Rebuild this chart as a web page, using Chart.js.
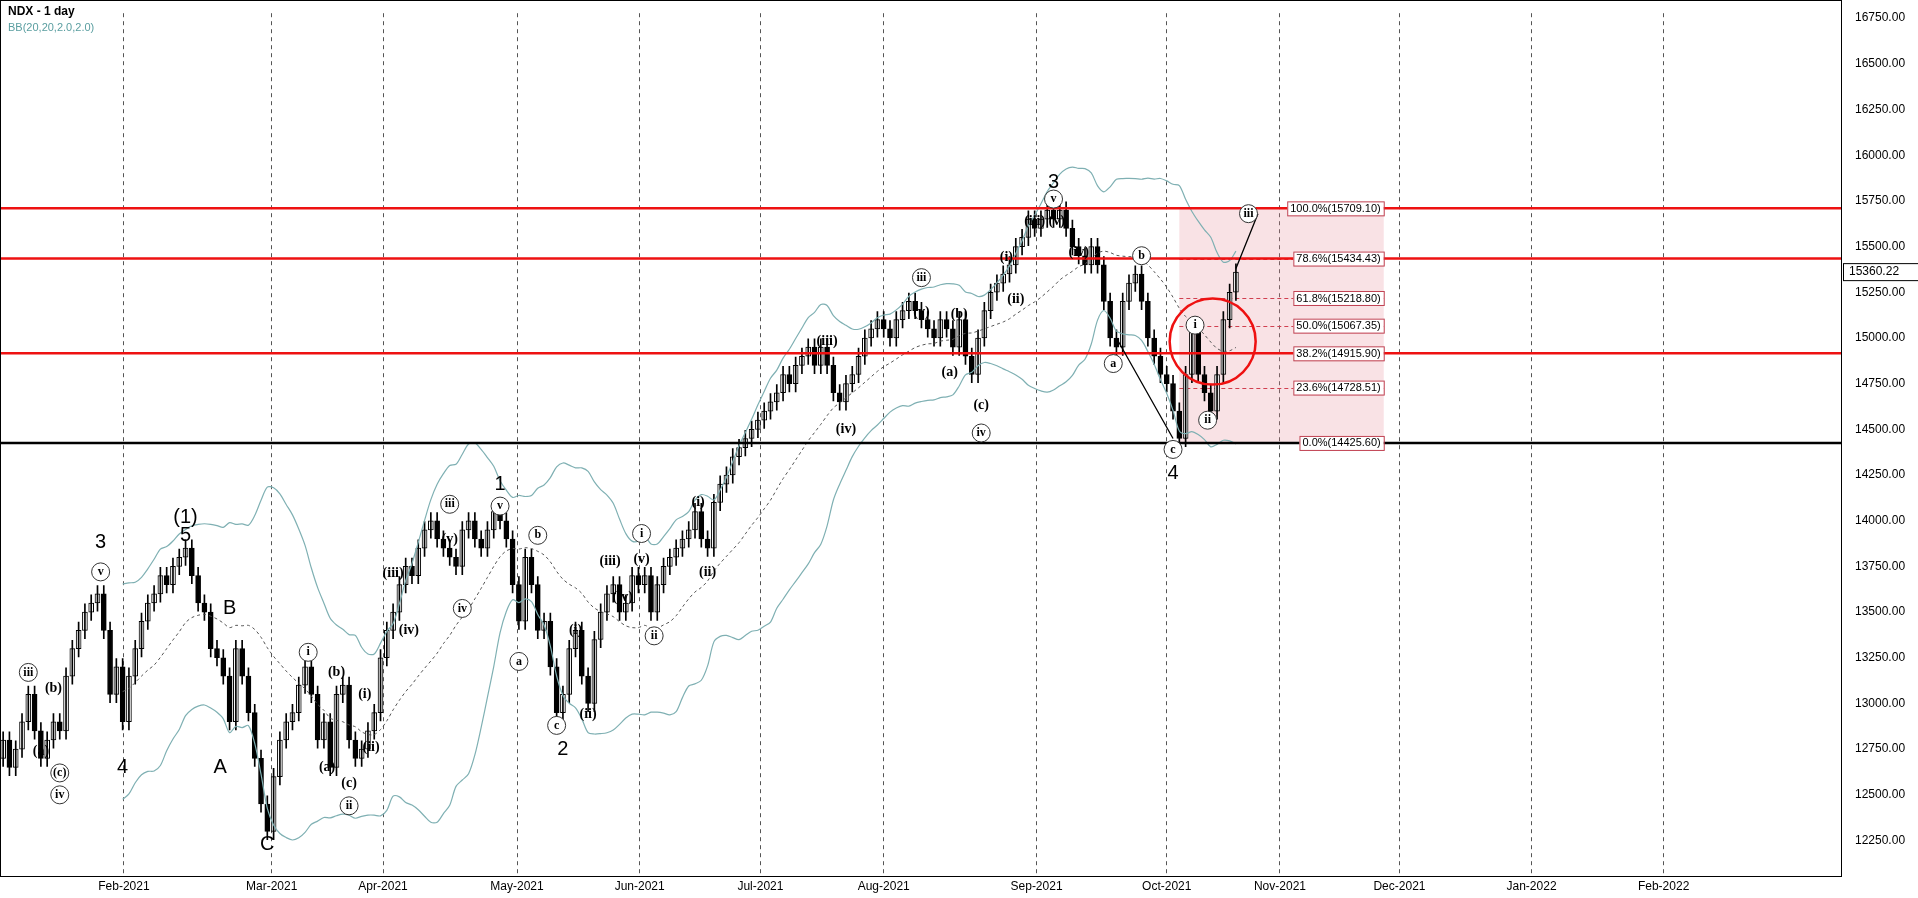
<!DOCTYPE html>
<html>
<head>
<meta charset="utf-8">
<script src="https://cdn.jsdelivr.net/npm/chart.js@4.4.0/dist/chart.umd.min.js"></script>
<style>
  html, body { margin: 0; padding: 0; background: #fff; }
  #wrap { width: 1918px; height: 898px; position: relative; }
</style>
</head>
<body>
<div id="wrap"><canvas id="ndx"></canvas></div>
<script>
// daily closes (trading day index 0 = early Jan 2021)
const closes = [
  12800,12650,12750,12900,13050,12850,12700,12800,12900,12850,
  13150,13300,13400,13500,13550,13600,13400,13050,13200,12900,
  13150,13300,13450,13550,13600,13700,13650,13750,13800,13850,
  13700,13550,13500,13300,13250,13150,12900,13300,13150,12950,
  12700,12450,12300,12600,12800,12900,12950,13100,13200,13050,
  12800,12900,12650,13050,13100,12800,12700,12750,12850,12950,
  13250,13400,13500,13650,13750,13700,13850,13950,14000,13900,
  13850,13800,13750,13950,14000,13900,13850,13950,14050,14000,
  13900,13650,13450,13800,13650,13400,13450,13200,12950,13050,
  13300,13400,13150,13000,13350,13500,13600,13650,13500,13550,
  13700,13650,13700,13500,13650,13750,13800,13850,13900,13950,
  14050,13900,13850,14100,14200,14250,14350,14400,14450,14500,
  14550,14600,14650,14700,14800,14750,14850,14900,14950,14850,
  14950,14850,14700,14650,14750,14800,14900,15000,15050,15100,
  15050,15000,15100,15150,15200,15150,15100,15050,15000,15100,
  15050,14950,15100,14900,14800,15000,15150,15250,15300,15350,
  15400,15500,15550,15650,15600,15650,15700,15650,15700,15600,
  15500,15450,15400,15500,15400,15200,15000,14950,15200,15300,
  15350,15200,15000,14900,14800,14750,14600,14450,14800,15050,
  14800,14700,14600,14800,15100,15250,15360.22
];
const firstOpen = 12700;

// month labels and their positions on the day index axis
const monthLabels = ["Feb-2021","Mar-2021","Apr-2021","May-2021","Jun-2021","Jul-2021","Aug-2021","Sep-2021","Oct-2021","Nov-2021","Dec-2021","Jan-2022","Feb-2022"];
const monthIndex = [19.2,42.7,60.4,81.7,101.2,120.4,140,164.3,185,203,222,243,264];

// horizontal levels
const redLevels = [15709.10, 15434.43, 14915.90];
const blackLevel = 14425.60;
const fibPct = ["100.0%","78.6%","61.8%","50.0%","38.2%","23.6%","0.0%"];
const fibPrice = [15709.10,15434.43,15218.80,15067.35,14915.90,14728.51,14425.60];

// wave labels: [text, dayIndex, price, circled]
const waves = [
  ["iii",4,13170,true],["(a)",6,12740,false],["(b)",8,13080,false],["(c)",9,12620,true],["iv",9,12500,true],
  ["3",15.5,13880,false],["v",15.5,13720,true],["4",19,12650,false],
  ["(1)",29,14020,false],["5",29,13920,false],["B",36,13520,false],["A",34.5,12650,false],["C",42,12230,false],
  ["i",48.5,13280,true],["(b)",53,13170,false],["(a)",51.5,12650,false],["(c)",55,12560,false],["ii",55,12440,true],
  ["(i)",57.5,13050,false],["(ii)",58.5,12760,false],
  ["iii",71,14090,true],["(v)",71,13900,false],["iv",73,13520,true],["(iii)",62,13710,false],["(iv)",64.5,13400,false],
  ["1",79,14200,false],["v",79,14080,true],["b",85,13920,true],["a",82,13230,true],["c",88,12880,true],["2",89,12750,false],
  ["(i)",91,13400,false],["(ii)",93,12940,false],["(iii)",96.5,13780,false],["(iv)",98.5,13580,false],["(v)",101.5,13790,false],
  ["i",101.5,13930,true],["ii",103.5,13370,true],["(i)",110.5,14100,false],["(ii)",112,13720,false],
  ["(iii)",131,14980,false],["(iv)",134,14500,false],["iii",146,15330,true],["(v)",146,15140,false],["(b)",152,15130,false],["(a)",150.5,14810,false],
  ["(c)",155.5,14630,false],["iv",155.5,14480,true],["(i)",159.5,15440,false],["(ii)",161,15210,false],
  ["3",167,15850,false],["v",167,15760,true],["(iii)",164,15640,false],["(v)",167.5,15640,false],["(iv)",171,15470,false],
  ["b",181,15450,true],["a",176.5,14860,true],["c",186,14390,true],["4",186,14260,false],
  ["i",189.5,15070,true],["ii",191.5,14550,true],["iii",198,15680,true]
];

const W = 1918, plotRight = 1841;

const bodies = closes.map((c, i) => {
  const o = i === 0 ? firstOpen : closes[i - 1];
  return { x: i, y: [o, c] };
});
const wicks = closes.map((c, i) => {
  const o = i === 0 ? firstOpen : closes[i - 1];
  return { x: i, y: [Math.min(o, c) - 45, Math.max(o, c) + 45] };
});

// Bollinger bands 20, 2.0
const mid = [], up = [], lo = [];
closes.forEach((c, i) => {
  if (i < 19) return;
  const win = closes.slice(i - 19, i + 1);
  const m = win.reduce((a, b) => a + b, 0) / 20;
  const sd = Math.sqrt(win.reduce((a, b) => a + (b - m) * (b - m), 0) / 20);
  mid.push({ x: i, y: m }); up.push({ x: i, y: m + 2 * sd }); lo.push({ x: i, y: m - 2 * sd });
});

const overlay = {
  id: "overlay",
  beforeDatasetsDraw(chart) {
    const { ctx, scales: { x, y } } = chart;
    ctx.save();
    const x0 = x.getPixelForValue(187), x1 = x.getPixelForValue(219.5);
    ctx.fillStyle = "rgba(230,140,150,0.25)";
    ctx.fillRect(x0, y.getPixelForValue(fibPrice[0]), x1 - x0, y.getPixelForValue(fibPrice[6]) - y.getPixelForValue(fibPrice[0]));
    ctx.strokeStyle = "#d04050"; ctx.lineWidth = 1; ctx.setLineDash([4, 3]);
    fibPrice.forEach(p => {
      const py = Math.round(y.getPixelForValue(p)) + 0.5;
      ctx.beginPath(); ctx.moveTo(x0, py); ctx.lineTo(x1, py); ctx.stroke();
    });
    ctx.setLineDash([]);
    ctx.restore();
  },
  afterDatasetsDraw(chart) {
    const { ctx, scales: { x, y } } = chart;
    ctx.save();
    ctx.lineWidth = 2.5;
    ctx.strokeStyle = "#ee1111";
    redLevels.forEach(p => {
      const py = y.getPixelForValue(p);
      ctx.beginPath(); ctx.moveTo(0, py); ctx.lineTo(plotRight, py); ctx.stroke();
    });
    ctx.strokeStyle = "#000";
    let py = y.getPixelForValue(blackLevel);
    ctx.beginPath(); ctx.moveTo(0, py); ctx.lineTo(plotRight, py); ctx.stroke();

    ctx.font = "11px Arial, 'Liberation Sans'";
    ctx.textBaseline = "middle";
    const x1 = x.getPixelForValue(219.5);
    fibPrice.forEach((p, k) => {
      const t = fibPct[k] + "(" + p.toFixed(2) + ")";
      const w = ctx.measureText(t).width + 6;
      const yy = y.getPixelForValue(p);
      ctx.fillStyle = "#fff"; ctx.strokeStyle = "#c04050"; ctx.lineWidth = 1;
      ctx.fillRect(x1 - w, yy - 7, w, 14); ctx.strokeRect(x1 - w + 0.5, yy - 6.5, w, 14);
      ctx.fillStyle = "#000"; ctx.textAlign = "left";
      ctx.fillText(t, x1 - w + 3, yy + 0.5);
    });

    ctx.strokeStyle = "#ee1111"; ctx.lineWidth = 2.5;
    ctx.beginPath();
    ctx.arc(x.getPixelForValue(192.3), y.getPixelForValue(14980), 43, 0, Math.PI * 2);
    ctx.stroke();

    ctx.strokeStyle = "#000"; ctx.lineWidth = 1.3;
    ctx.beginPath();
    ctx.moveTo(x.getPixelForValue(177), y.getPixelForValue(15000));
    ctx.lineTo(x.getPixelForValue(186), y.getPixelForValue(14450));
    ctx.moveTo(x.getPixelForValue(196), y.getPixelForValue(15380));
    ctx.lineTo(x.getPixelForValue(199.5), y.getPixelForValue(15680));
    ctx.stroke();

    ctx.textAlign = "center";
    waves.forEach(([t, i, p, circ]) => {
      const px = x.getPixelForValue(i), yy = y.getPixelForValue(p);
      if (circ) {
        ctx.font = "bold 12px 'Liberation Serif', serif";
        ctx.fillStyle = "#fff"; ctx.strokeStyle = "#333"; ctx.lineWidth = 1;
        ctx.beginPath(); ctx.arc(px, yy, 9, 0, Math.PI * 2); ctx.fill(); ctx.stroke();
        ctx.fillStyle = "#000"; ctx.fillText(t, px, yy);
      } else {
        ctx.font = /^[0-9A-C]$|^\(1\)$/.test(t) ? "20px Arial, 'Liberation Sans'" : "bold 14px 'Liberation Serif', serif";
        ctx.fillStyle = "#000"; ctx.fillText(t, px, yy);
      }
    });

    py = y.getPixelForValue(15360.22);
    ctx.fillStyle = "#fff"; ctx.strokeStyle = "#000"; ctx.lineWidth = 1;
    ctx.fillRect(plotRight + 2, py - 9, 76, 18); ctx.strokeRect(plotRight + 2.5, py - 8.5, 75, 17);
    ctx.fillStyle = "#000"; ctx.font = "12px Arial, 'Liberation Sans'"; ctx.textAlign = "left";
    ctx.fillText("15360.22", plotRight + 8, py);

    ctx.textBaseline = "top"; ctx.textAlign = "left";
    ctx.font = "bold 12px Arial, 'Liberation Sans'"; ctx.fillStyle = "#000";
    ctx.fillText("NDX - 1 day", 8, 6);
    ctx.font = "11px Arial, 'Liberation Sans'"; ctx.fillStyle = "#5a9ea0";
    ctx.fillText("BB(20,20,2.0,2.0)", 8, 22);
    ctx.strokeStyle = "#000"; ctx.lineWidth = 1;
    ctx.strokeRect(0.5, 0.5, chart.chartArea.right, chart.chartArea.bottom);
    ctx.restore();
  }
};

new Chart(document.getElementById("ndx"), {
  data: {
    datasets: [
      { type: "line", data: up, borderColor: "#7fb0b3", borderWidth: 1.2, pointRadius: 0, tension: 0.3 },
      { type: "line", data: lo, borderColor: "#7fb0b3", borderWidth: 1.2, pointRadius: 0, tension: 0.3 },
      { type: "line", data: mid, borderColor: "#555", borderWidth: 1, borderDash: [3, 3], pointRadius: 0, tension: 0.3 },
      { type: "bar", data: wicks, backgroundColor: "#000", barThickness: 1, grouped: false },
      { type: "bar", data: bodies, grouped: false, barThickness: 5,
        backgroundColor: bodies.map(b => b.y[1] >= b.y[0] ? "#fff" : "#000"),
        borderColor: "#000", borderWidth: 1, borderSkipped: false }
    ]
  },
  options: {
    responsive: true, maintainAspectRatio: false, animation: false,
    layout: { padding: 0 },
    plugins: { legend: { display: false }, tooltip: { enabled: false } },
    scales: {
      x: {
        type: "linear", min: -0.5, max: 292.2, offset: false,
        afterBuildTicks: s => { s.ticks = monthIndex.map(v => ({ value: v })); },
        afterFit: s => { s.height = 22; },
        ticks: { autoSkip: false, maxRotation: 0, color: "#000", font: { size: 12, family: "Arial, 'Liberation Sans'" },
                 callback: (v, k) => monthLabels[k] },
        grid: { color: "#555", drawTicks: false, offset: false },
        border: { display: false, dash: [4, 4] }
      },
      y: {
        position: "right", min: 12056, max: 16777,
        afterBuildTicks: s => { const t = []; for (let v = 12250; v <= 16750; v += 250) t.push({ value: v }); s.ticks = t; },
        afterFit: s => { s.width = W - plotRight; },
        ticks: { color: "#000", padding: 6, font: { size: 12, family: "Arial, 'Liberation Sans'" }, callback: v => v.toFixed(2) },
        grid: { display: false },
        border: { display: false }
      }
    }
  },
  plugins: [overlay]
});
</script>
</body>
</html>
